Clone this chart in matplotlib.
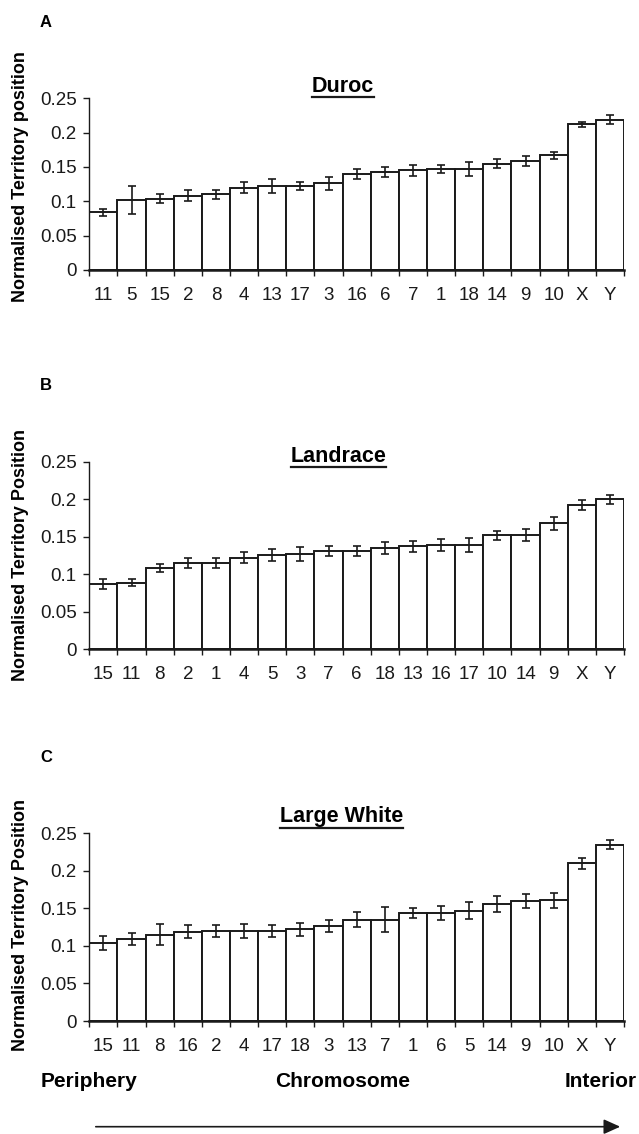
import matplotlib
matplotlib.use("Agg")
import matplotlib.pyplot as plt
from matplotlib.lines import Line2D
import numpy as np

plt.rcParams['font.family'] = ['Liberation Sans', 'DejaVu Sans']

# ---------------- data ----------------
duroc_chrom = ["11", "5", "15", "2", "8", "4", "13", "17", "3", "16", "6", "7", "1", "18", "14", "9", "10", "X", "Y"]
duroc_vals = [0.084, 0.102, 0.104, 0.108, 0.110, 0.120, 0.122, 0.122, 0.126, 0.140, 0.143, 0.145, 0.147, 0.147, 0.155, 0.159, 0.167, 0.212, 0.219]
duroc_err = [0.0055, 0.021, 0.007, 0.008, 0.007, 0.008, 0.010, 0.006, 0.0097, 0.0068, 0.007, 0.0077, 0.0056, 0.010, 0.0072, 0.0077, 0.005, 0.004, 0.006]

landrace_chrom = ["15", "11", "8", "2", "1", "4", "5", "3", "7", "6", "18", "13", "16", "17", "10", "14", "9", "X", "Y"]
landrace_vals = [0.087, 0.089, 0.108, 0.115, 0.115, 0.122, 0.126, 0.127, 0.131, 0.131, 0.135, 0.137, 0.139, 0.139, 0.152, 0.152, 0.168, 0.192, 0.200]
landrace_err = [0.0064, 0.0042, 0.0053, 0.0064, 0.0064, 0.0073, 0.008, 0.009, 0.0073, 0.0071, 0.0084, 0.0073, 0.008, 0.009, 0.0062, 0.0082, 0.0084, 0.0067, 0.0062]

lw_chrom = ["15", "11", "8", "16", "2", "4", "17", "18", "3", "13", "7", "1", "6", "5", "14", "9", "10", "X", "Y"]
lw_vals = [0.104, 0.109, 0.115, 0.119, 0.120, 0.120, 0.120, 0.122, 0.126, 0.135, 0.135, 0.144, 0.144, 0.147, 0.156, 0.160, 0.161, 0.210, 0.235]
lw_err = [0.0093, 0.0082, 0.0142, 0.0082, 0.0084, 0.009, 0.0082, 0.0082, 0.008, 0.0098, 0.0166, 0.0064, 0.0089, 0.011, 0.011, 0.009, 0.010, 0.0073, 0.0062]

y_ticks = [0, 0.05, 0.1, 0.15, 0.2, 0.25]
y_ticklabels = ["0", "0.05", "0.1", "0.15", "0.2", "0.25"]

panels = [
    dict(letter="A", title="Duroc", ylabel="Normalised Territory position",
         chrom=duroc_chrom, vals=duroc_vals, err=duroc_err,
         top=98.3, bottom=270.0, title_x=343, title_base=91.7, ul=96.7, ylab_y=177),
    dict(letter="B", title="Landrace", ylabel="Normalised Territory Position",
         chrom=landrace_chrom, vals=landrace_vals, err=landrace_err,
         top=461.7, bottom=649.3, title_x=338.5, title_base=461.7, ul=466.7, ylab_y=555),
    dict(letter="C", title="Large White", ylabel="Normalised Territory Position",
         chrom=lw_chrom, vals=lw_vals, err=lw_err,
         top=833.3, bottom=1021.0, title_x=341.5, title_base=821.7, ul=827.7, ylab_y=925),
]

W, H = 639, 1134
fig = plt.figure(figsize=(W / 100, H / 100), dpi=100)
fig.patch.set_facecolor("white")

def fx(px):
    return px / W

def fy(py):
    return 1 - py / H

ax_left, ax_right = 89.3, 624.0
title_texts = []

for p in panels:
    ax = fig.add_axes([fx(ax_left), fy(p["bottom"]), fx(ax_right - ax_left),
                       (p["bottom"] - p["top"]) / H])
    x = np.arange(len(p["chrom"]))
    ax.bar(x, p["vals"], width=1.0, color="white", edgecolor="#1a1a1a",
           linewidth=1.4, zorder=2)
    ax.errorbar(x, p["vals"], yerr=p["err"], fmt="none", ecolor="#1a1a1a",
                elinewidth=1.2, capsize=3.0, capthick=1.2, zorder=3)
    ax.set_xlim(-0.5, len(x) - 0.5)
    ax.set_ylim(0, 0.25)
    ax.set_yticks(y_ticks)
    ax.set_yticklabels(y_ticklabels)
    ax.tick_params(axis="y", direction="out", length=4, width=1.0, pad=5,
                   labelsize=13.5, colors="#1a1a1a")
    # boundaries as major ticks, labels at bar centers as minor ticks
    ax.set_xticks(np.arange(len(x) + 1) - 0.5)
    ax.set_xticklabels([])
    ax.set_xticks(x, minor=True)
    ax.set_xticklabels(p["chrom"], minor=True)
    ax.tick_params(axis="x", which="major", direction="out", length=4, width=1.0,
                   colors="#1a1a1a")
    ax.tick_params(axis="x", which="minor", length=0, pad=12, labelsize=13.5,
                   colors="#1a1a1a")
    for s in ["top", "right"]:
        ax.spines[s].set_visible(False)
    ax.spines["left"].set_linewidth(1.0)
    ax.spines["left"].set_color("#1a1a1a")
    ax.spines["bottom"].set_linewidth(1.8)
    ax.spines["bottom"].set_color("#1a1a1a")
    ax.patch.set_alpha(0)

    # panel letter
    fig.text(fx(40), fy(p["top"] - 71.6), p["letter"], fontsize=12,
             fontweight="bold", ha="left", va="baseline")
    # y label
    fig.text(fx(21), fy(p["ylab_y"]), p["ylabel"], rotation=90, fontsize=13,
             fontweight="bold", ha="center", va="center")
    # title (underlined)
    t = fig.text(fx(p["title_x"]), fy(p["title_base"]), p["title"], fontsize=15.5,
                 fontweight="bold", ha="center", va="baseline")
    title_texts.append((t, p["ul"]))

# bottom annotations
fig.text(fx(40.7), fy(1087.3), "Periphery", fontsize=15, fontweight="bold",
         ha="left", va="baseline")
fig.text(fx(342.5), fy(1087.3), "Chromosome", fontsize=15, fontweight="bold",
         ha="center", va="baseline")
fig.text(fx(637), fy(1087.3), "Interior", fontsize=15, fontweight="bold",
         ha="right", va="baseline")

fig.add_artist(matplotlib.patches.FancyArrowPatch(
    (fx(93), fy(1126.7)), (fx(623), fy(1126.7)), transform=fig.transFigure,
    arrowstyle="-|>,head_length=10,head_width=4.5", mutation_scale=1,
    linewidth=1.2, color="#1a1a1a"))

# underline titles
fig.canvas.draw()
renderer = fig.canvas.get_renderer()
for t, ul in title_texts:
    bb = t.get_window_extent(renderer=renderer)
    line = Line2D([bb.x0 / W, bb.x1 / W], [fy(ul), fy(ul)],
                  transform=fig.transFigure, color="#1a1a1a", linewidth=1.6)
    fig.add_artist(line)

fig.savefig("out.png", dpi=100, facecolor="white")
